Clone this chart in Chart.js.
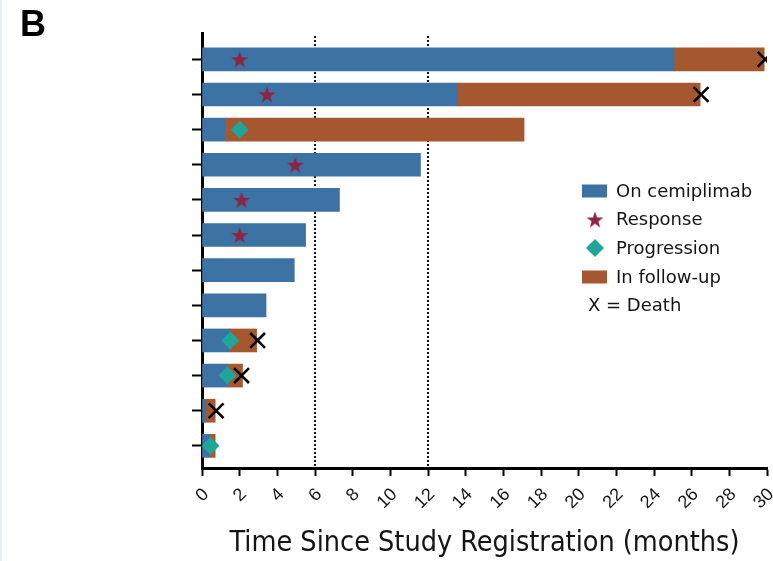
<!DOCTYPE html>
<html>
<head>
<meta charset="utf-8">
<script src="https://cdn.jsdelivr.net/npm/chart.js@4.4.1/dist/chart.umd.min.js"></script>
<style>
  html, body { margin: 0; padding: 0; background: #fff; }
  body { width: 773px; height: 561px; overflow: hidden; }
  #wrap { position: relative; width: 773px; height: 561px; border-left: 2px solid #e6eef6; box-sizing: border-box; }
  canvas { display: block; }
</style>
</head>
<body>
<div id="wrap"><canvas id="swimmer" width="771" height="561"></canvas></div>
<script>
// Patient rows, top to bottom
const patients = [1, 2, 3, 4, 5, 6, 7, 8, 9, 10, 11, 12];
// Months on cemiplimab (bar from 0)
const treatmentEnd = [25.1, 13.6, 1.3, 11.6, 7.3, 5.5, 4.9, 3.4, 1.45, 1.35, 0.2, 0.45];
// End of follow-up after treatment stopped (null = still on treatment)
const followUpEnd = [29.85, 26.45, 17.1, null, null, null, null, null, 2.9, 2.15, 0.7, 0.7];
// Event times (months)
const responseAt = [2.0, 3.45, null, 4.95, 2.1, 2.0, null, null, null, null, null, null];
const progressionAt = [null, null, 2.0, null, null, null, null, null, 1.5, 1.35, null, 0.45];
const deathAt = [29.9, 26.5, null, null, null, null, null, null, 2.95, 2.1, 0.75, null];
// Axis ticks and reference lines
const monthTicks = [0, 2, 4, 6, 8, 10, 12, 14, 16, 18, 20, 22, 24, 26, 28, 30];
const landmarkMonths = [6, 12];

const BLUE = '#3d72a4';
const ORANGE = '#a5582f';
const CRIMSON = '#8c2442';
const TEAL = '#1fa69a';
const INK = '#141414';
const SANS = '"Liberation Sans", Arial, Helvetica, sans-serif';
const WIDE = '"DejaVu Sans", Verdana, sans-serif';
const NARROW = '"Liberation Sans Narrow", "Arial Narrow", "DejaVu Sans Condensed", sans-serif';

// filled five-point star used as the response marker
function makeStar(R, color) {
  const r = R * 0.4;
  const size = Math.ceil(R * 2) + 2;
  const c = document.createElement('canvas');
  c.width = c.height = size;
  const g = c.getContext('2d');
  const cx = size / 2, cy = size / 2 + R * 0.095;
  g.beginPath();
  for (let i = 0; i < 10; i++) {
    const a = -Math.PI / 2 + i * Math.PI / 5;
    const rad = i % 2 ? r : R;
    g.lineTo(cx + rad * Math.cos(a), cy + rad * Math.sin(a));
  }
  g.closePath();
  g.fillStyle = color;
  g.fill();
  return c;
}
const starImg = makeStar(8.8, CRIMSON);

function points(times) {
  return patients.map((p, i) => times[i] == null ? null : { x: times[i], y: p }).filter(Boolean);
}

const treatmentBars = patients.map((p, i) => ({ y: p, x: [0, treatmentEnd[i]] }));
const followUpBars = patients
  .map((p, i) => followUpEnd[i] == null ? null : { y: p, x: [treatmentEnd[i], followUpEnd[i]] })
  .filter(Boolean);

// dotted landmark lines behind the bars
const landmarkPlugin = {
  id: 'landmarks',
  beforeDatasetsDraw(chart) {
    const { ctx, chartArea, scales } = chart;
    ctx.save();
    ctx.strokeStyle = INK;
    ctx.lineWidth = 2;
    ctx.setLineDash([2, 2]);
    landmarkMonths.forEach(m => {
      const x = Math.round(scales.x.getPixelForValue(m));
      ctx.beginPath();
      ctx.moveTo(x, chartArea.top + 3);
      ctx.lineTo(x, chartArea.bottom);
      ctx.stroke();
    });
    ctx.restore();
  }
};

// panel letter and key
const keyPlugin = {
  id: 'key',
  afterDraw(chart) {
    const ctx = chart.ctx;
    ctx.save();
    ctx.fillStyle = '#000';
    ctx.font = 'bold 36px ' + SANS;
    ctx.textBaseline = 'alphabetic';
    ctx.fillText('B', 18, 36);

    const tx = 614;
    const rows = [191, 219.5, 248, 277, 305];
    ctx.font = '18px ' + WIDE;
    ctx.textBaseline = 'middle';
    // On cemiplimab
    ctx.fillStyle = BLUE;
    ctx.fillRect(580, rows[0] - 6.5, 25, 13);
    // Response
    ctx.drawImage(starImg, 593 - starImg.width / 2, rows[1] - starImg.height / 2);
    // Progression
    ctx.fillStyle = TEAL;
    ctx.beginPath();
    ctx.moveTo(593, rows[2] - 9); ctx.lineTo(602, rows[2]); ctx.lineTo(593, rows[2] + 9); ctx.lineTo(584, rows[2]);
    ctx.closePath(); ctx.fill();
    // In follow-up
    ctx.fillStyle = ORANGE;
    ctx.fillRect(580, rows[3] - 6.5, 25, 13);

    ctx.fillStyle = INK;
    ctx.fillText('On cemiplimab', tx, rows[0] + 1);
    ctx.fillText('Response', tx, rows[1] + 1);
    ctx.fillText('Progression', tx, rows[2] + 1);
    ctx.fillText('In follow-up', tx, rows[3] + 1);
    ctx.fillText('X = Death', 586, rows[4] + 1);
    ctx.restore();
  }
};

new Chart(document.getElementById('swimmer'), {
  type: 'bar',
  data: {
    datasets: [
      {
        type: 'scatter', label: 'X = Death', data: points(deathAt),
        pointStyle: 'crossRot', pointRadius: 10.5, borderColor: '#000', borderWidth: 2.6,
        backgroundColor: '#000', order: 0
      },
      {
        type: 'scatter', label: 'Response', data: points(responseAt),
        pointStyle: starImg, pointRadius: 9, order: 1
      },
      {
        type: 'scatter', label: 'Progression', data: points(progressionAt),
        pointStyle: 'rectRot', pointRadius: 9, backgroundColor: TEAL, borderWidth: 0, order: 1
      },
      {
        type: 'bar', label: 'On cemiplimab', indexAxis: 'y', data: treatmentBars,
        backgroundColor: BLUE, barThickness: 23, grouped: false, order: 5
      },
      {
        type: 'bar', label: 'In follow-up', indexAxis: 'y', data: followUpBars,
        backgroundColor: ORANGE, barThickness: 23, grouped: false, order: 4
      }
    ]
  },
  options: {
    responsive: false,
    animation: false,
    events: [],
    layout: { autoPadding: false, padding: { top: 33, right: 6, left: 0, bottom: 0 } },
    plugins: { legend: { display: false }, tooltip: { enabled: false } },
    scales: {
      x: {
        type: 'linear', position: 'bottom', min: 0, max: 30, offset: false,
        afterBuildTicks(scale) { scale.ticks = monthTicks.map(v => ({ value: v })); },
        afterFit(scale) { scale.height = 93; scale.paddingLeft = 0; scale.paddingRight = 0; },
        ticks: {
          autoSkip: false, minRotation: 45, maxRotation: 45, padding: 8, labelOffset: 4,
          color: INK, font: { family: SANS, size: 18 }
        },
        grid: { drawOnChartArea: false, offset: false, tickLength: 8, tickWidth: 2, tickColor: '#000' },
        border: { color: '#000', width: 3 },
        title: {
          display: true, text: 'Time Since Study Registration (months)', color: INK,
          font: { family: NARROW, size: 28.5 }, padding: { top: 0, bottom: 0 }
        }
      },
      y: {
        type: 'linear', position: 'left', reverse: true, min: 0.25, max: 12.63, offset: false,
        afterBuildTicks(scale) { scale.ticks = patients.map(v => ({ value: v })); },
        afterFit(scale) { scale.width = 200; },
        ticks: { callback: () => '', padding: 0 },
        grid: { drawOnChartArea: false, offset: false, tickLength: 10, tickWidth: 2, tickColor: '#000' },
        border: { color: '#000', width: 3 }
      }
    }
  },
  plugins: [landmarkPlugin, keyPlugin]
});
</script>
</body>
</html>
